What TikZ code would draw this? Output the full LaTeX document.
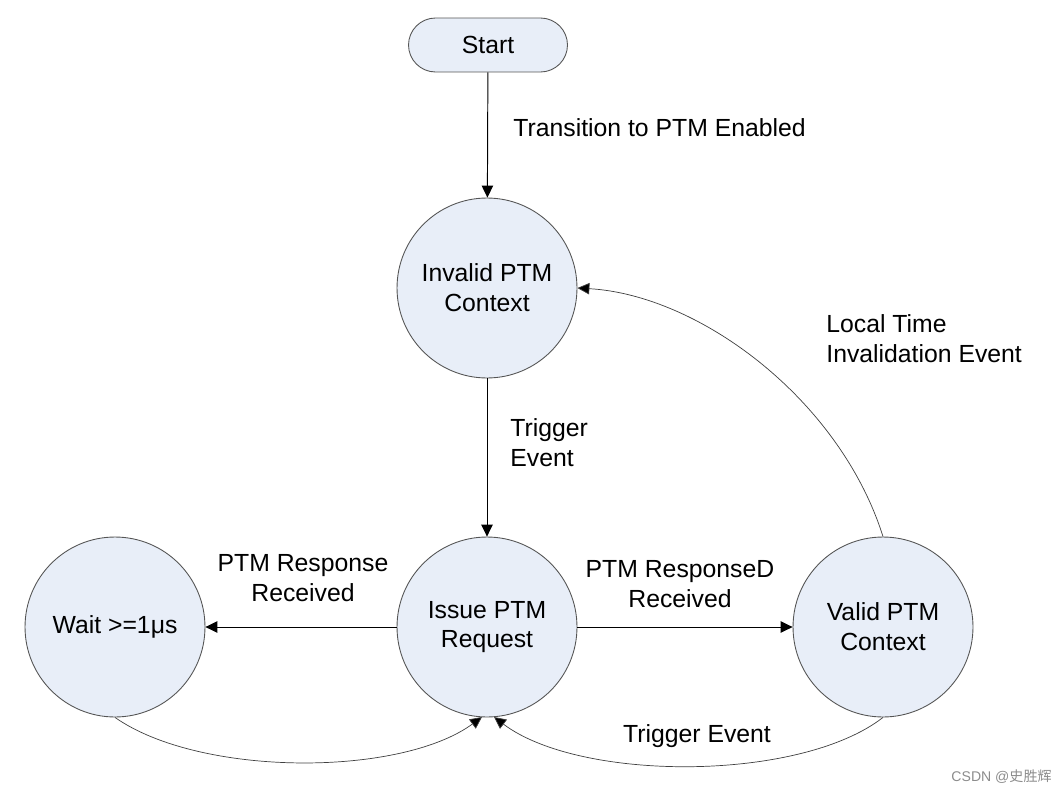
\documentclass[tikz,border=0pt]{standalone}
\usepackage{fontspec}
\setmainfont{Liberation Sans}
\newfontfamily\cjk{Noto Sans CJK SC}
\usetikzlibrary{arrows.meta}
\definecolor{statefill}{RGB}{232,238,248}
\definecolor{stateline}{RGB}{85,85,85}

\begin{document}
\begin{tikzpicture}[x=0.02cm, y=-0.02cm,
    font=\fontsize{14.1}{17}\selectfont,
    state/.style={circle, draw=stateline, fill=statefill, line width=0.5pt,
        minimum size=3.6cm, inner sep=0pt, align=center},
    startbox/.style={rectangle, rounded corners=0.54cm, draw=stateline, fill=statefill,
        line width=0.5pt, minimum width=3.18cm, minimum height=1.08cm},
    arr/.style={line width=0.55pt, -{Triangle[length=6.8pt,width=6.5pt]}},
    curvearr/.style={line width=0.4pt, draw=black!75, -{Triangle[length=6.8pt,width=6.5pt,fill=black]}},
    lbl/.style={align=left, inner sep=0pt}]
    \useasboundingbox (0,0) rectangle (1064,794);
    % states
    \node[startbox] (start) at (488,45) {Start};
    \node[state] (invalid) at (487,288) {Invalid PTM\\Context};
    \node[state] (issue) at (487,627) {Issue PTM\\Request};
    \node[state] (wait) at (115,627) {Wait >=1μs};
    \node[state] (valid) at (883,627) {Valid PTM\\Context};
    % transitions
    \draw[arr] (start) -- (invalid);
    \draw[arr] (invalid) -- (issue);
    \draw[arr] (issue) -- (wait);
    \draw[arr] (issue) -- (valid);
    \draw[curvearr] (valid.north) .. controls (840,400) and (700,295) .. (invalid.east);
    \coordinate (issueL) at (482,717);
    \coordinate (issueR) at (494,717);
    \draw[curvearr] (wait.south) .. controls (200,777) and (400,777) .. (issueL);
    \draw[curvearr] (valid.south) .. controls (800,782) and (580,782) .. (issueR);
    % labels
    \node[lbl, anchor=west] (ltrans) at (513,128) {Transition to PTM Enabled};
    \node[lbl, anchor=west] (ltrig) at (510,443) {Trigger\\Event};
    \node[lbl, align=center] (lresp) at (303,578) {PTM Response\\Received};
    \node[lbl, align=center] (lrespd) at (680,584) {PTM ResponseD\\Received};
    \node[lbl, anchor=west] (llocal) at (826,339) {Local Time\\Invalidation Event};
    \node[lbl] (ltrig2) at (697,736) {Trigger Event};
    \node[lbl, anchor=east, text=black!45, font=\fontsize{8}{9}\selectfont] (mark) at (1052,777) {CSDN @{\cjk 史胜辉}};
\end{tikzpicture}
\end{document}
